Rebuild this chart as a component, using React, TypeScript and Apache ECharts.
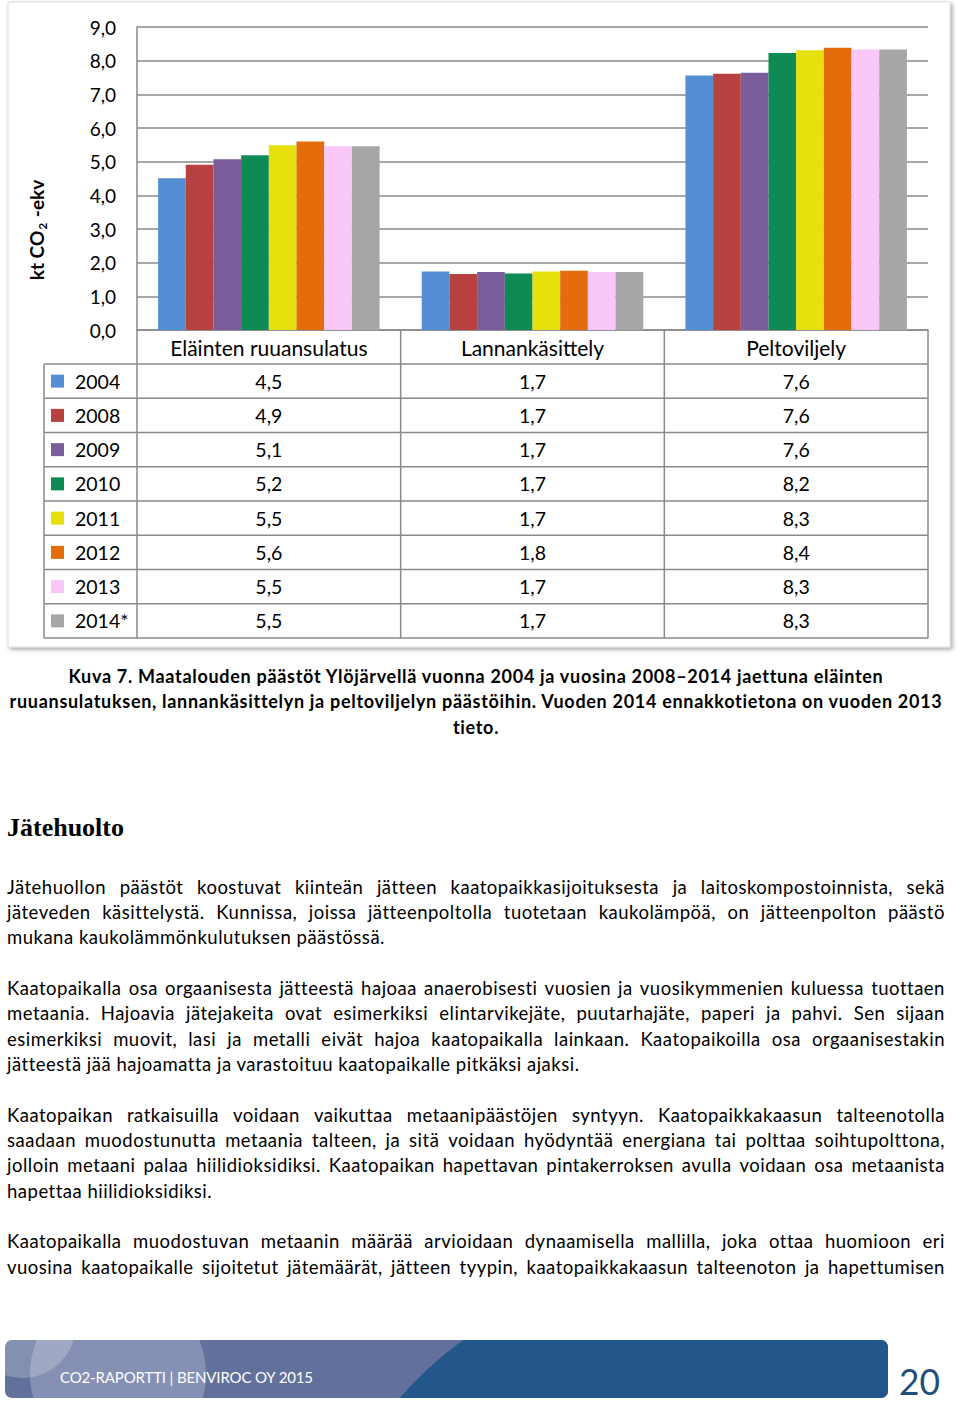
import React, { useEffect, useRef } from "react";
import * as echarts from "echarts";

// ---------- DATA ----------
const categories = ["Eläinten ruuansulatus", "Lannankäsittely", "Peltoviljely"];
const years = ["2004", "2008", "2009", "2010", "2011", "2012", "2013", "2014*"];
const colors = ["#558ED5", "#B7413E", "#7A5C9A", "#0E8A54", "#E6E00C", "#E46C0A", "#FAC8F8", "#A6A6A6"];
const v2004 = [4.51, 1.74, 7.56];
const v2008 = [4.91, 1.66, 7.61];
const v2009 = [5.07, 1.72, 7.64];
const v2010 = [5.19, 1.68, 8.23];
const v2011 = [5.49, 1.74, 8.31];
const v2012 = [5.6, 1.76, 8.38];
const v2013 = [5.46, 1.72, 8.33];
const v2014 = [5.46, 1.72, 8.33];
const seriesValues = [v2004, v2008, v2009, v2010, v2011, v2012, v2013, v2014];
const yMin = 0;
const yMax = 9;
const yStep = 1;

const captionLines = [
  "Kuva 7. Maatalouden päästöt Ylöjärvellä vuonna 2004 ja vuosina 2008–2014 jaettuna eläinten",
  "ruuansulatuksen, lannankäsittelyn ja peltoviljelyn päästöihin. Vuoden 2014 ennakkotietona on vuoden 2013",
  "tieto.",
];

const heading = "Jätehuolto";

// [text, justified]
const bodyParagraphs: [string, boolean][][] = [
  [
    ["Jätehuollon päästöt koostuvat kiinteän jätteen kaatopaikkasijoituksesta ja laitoskompostoinnista, sekä", true],
    ["jäteveden käsittelystä. Kunnissa, joissa jätteenpoltolla tuotetaan kaukolämpöä, on jätteenpolton päästö", true],
    ["mukana kaukolämmönkulutuksen päästössä.", false],
  ],
  [
    ["Kaatopaikalla osa orgaanisesta jätteestä hajoaa anaerobisesti vuosien ja vuosikymmenien kuluessa tuottaen", true],
    ["metaania. Hajoavia jätejakeita ovat esimerkiksi elintarvikejäte, puutarhajäte, paperi ja pahvi. Sen sijaan", true],
    ["esimerkiksi muovit, lasi ja metalli eivät hajoa kaatopaikalla lainkaan. Kaatopaikoilla osa orgaanisestakin", true],
    ["jätteestä jää hajoamatta ja varastoituu kaatopaikalle pitkäksi ajaksi.", false],
  ],
  [
    ["Kaatopaikan ratkaisuilla voidaan vaikuttaa metaanipäästöjen syntyyn. Kaatopaikkakaasun talteenotolla", true],
    ["saadaan muodostunutta metaania talteen, ja sitä voidaan hyödyntää energiana tai polttaa soihtupolttona,", true],
    ["jolloin metaani palaa hiilidioksidiksi. Kaatopaikan hapettavan pintakerroksen avulla voidaan osa metaanista", true],
    ["hapettaa hiilidioksidiksi.", false],
  ],
  [
    ["Kaatopaikalla muodostuvan metaanin määrää arvioidaan dynaamisella mallilla, joka ottaa huomioon eri", true],
    ["vuosina kaatopaikalle sijoitetut jätemäärät, jätteen tyypin, kaatopaikkakaasun talteenoton ja hapettumisen", true],
  ],
];

const footerText = "CO2-RAPORTTI | BENVIROC OY 2015";
const pageNumber = "20";

const FONT = "Lato, 'Open Sans', sans-serif";
const fmt = (v: number) => v.toFixed(1).replace(".", ",");

function Line(props: { text: string; left: number; top: number; width: number; justify: boolean; center?: boolean; style: React.CSSProperties }) {
  const words = props.text.split(" ");
  return (
    <div
      style={{
        position: "absolute",
        left: props.left,
        top: props.top,
        width: props.width,
        whiteSpace: "nowrap",
        textAlign: props.center ? "center" : "left",
        ...props.style,
      }}
    >
      {props.justify ? (
        <div style={{ display: "flex", justifyContent: "space-between" }}>
          {words.map((w, i) => (
            <span key={i}>{w}</span>
          ))}
        </div>
      ) : (
        <span>{props.text}</span>
      )}
    </div>
  );
}

export default function App() {
  const ref = useRef<HTMLDivElement>(null);

  useEffect(() => {
    document.body.style.margin = "0";
    const chart = echarts.init(ref.current!, null, { renderer: "svg" });
    const L = 137;
    const R = 928;
    const T = 27;
    const B = 330;
    const H = 660;
    const colW = (R - L) / categories.length;
    const headerBottom = 364;
    const rowH = 34.25;
    const tableLeft = 44;
    const tableBottom = headerBottom + rowH * years.length;
    const lineColor = "#8A8A8A";
    const lw = 1.5;

    const graphics: any[] = [];
    graphics.push({
      type: "rect",
      z: -100,
      shape: { x: 8, y: 2, width: 942, height: 645 },
      style: { fill: "#fff", stroke: "#dcdcdc", lineWidth: 1, shadowColor: "rgba(0,0,0,0.35)", shadowBlur: 4, shadowOffsetX: 2, shadowOffsetY: 2 },
    });
    // y-axis title
    graphics.push({
      type: "text",
      x: 36,
      y: 230,
      rotation: Math.PI / 2,
      style: {
        text: "{a|kt CO}{s|2}{a| -ekv}",
        align: "center",
        verticalAlign: "middle",
        rich: {
          a: { fontFamily: FONT, fontWeight: "bold", fontSize: 19, lineHeight: 24, fill: "#000", verticalAlign: "middle" },
          s: { fontFamily: FONT, fontWeight: "bold", fontSize: 12, lineHeight: 24, fill: "#000", verticalAlign: "bottom", padding: [0, 1, 0, 1] },
        },
      },
    });
    // horizontal table lines
    for (let i = 0; i <= years.length; i++) {
      const y = headerBottom + i * rowH;
      graphics.push({ type: "line", shape: { x1: tableLeft, y1: y, x2: R, y2: y }, style: { stroke: lineColor, lineWidth: lw } });
    }
    graphics.push({ type: "line", shape: { x1: tableLeft, y1: headerBottom, x2: tableLeft, y2: tableBottom }, style: { stroke: lineColor, lineWidth: lw } });
    for (let k = 0; k <= categories.length; k++) {
      const x = L + k * colW;
      graphics.push({ type: "line", shape: { x1: x, y1: B, x2: x, y2: tableBottom }, style: { stroke: lineColor, lineWidth: lw } });
    }
    years.forEach((yr, i) => {
      const cy = headerBottom + (i + 0.5) * rowH;
      graphics.push({ type: "rect", shape: { x: 51, y: cy - 6.5, width: 13, height: 13 }, style: { fill: colors[i] } });
      graphics.push({
        type: "text",
        x: 75,
        y: cy,
        style: { text: yr, fontFamily: FONT, fontSize: 19.5, fill: "#000", align: "left", verticalAlign: "middle" },
      });
      seriesValues[i].forEach((v, c) => {
        graphics.push({
          type: "text",
          x: L + (c + 0.5) * colW,
          y: cy,
          style: { text: fmt(v), fontFamily: FONT, fontSize: 19.5, fill: "#000", align: "center", verticalAlign: "middle" },
        });
      });
    });

    const option: any = {
      animation: false,
      backgroundColor: "#fff",
      grid: { left: L, right: 960 - R, top: T, bottom: H - B, containLabel: false },
      xAxis: {
        type: "category",
        data: categories,
        axisLine: { show: true, lineStyle: { color: lineColor, width: lw } },
        axisTick: { show: false },
        axisLabel: { fontFamily: FONT, fontSize: 21, color: "#000", margin: 7, lineHeight: 20 },
      },
      yAxis: {
        type: "value",
        min: yMin,
        max: yMax,
        interval: yStep,
        axisLine: { show: true, lineStyle: { color: lineColor, width: lw } },
        axisTick: { show: false },
        splitLine: { show: true, lineStyle: { color: lineColor, width: lw } },
        axisLabel: { fontFamily: FONT, fontSize: 19, color: "#000", margin: 21, formatter: (v: number) => fmt(v) },
      },
      series: years.map((yr, i) => ({
        type: "bar",
        name: yr,
        data: seriesValues[i],
        barGap: "0%",
        barCategoryGap: "16%",
        itemStyle: { color: colors[i] },
      })),
      graphic: { elements: graphics },
    };
    chart.setOption(option);
    return () => chart.dispose();
  }, []);

  const captionTops = [663.5, 689, 714.5];
  const lineH = 25.35;
  let lineIdx = 0;
  const bodyLines: JSX.Element[] = [];
  bodyParagraphs.forEach((para, pi) => {
    para.forEach(([text, just], li) => {
      const top = 874.5 + lineIdx * lineH;
      bodyLines.push(
        <Line
          key={pi + "-" + li}
          text={text}
          left={7}
          top={top}
          width={938}
          justify={just}
          style={{ fontFamily: FONT, fontSize: 18.5, lineHeight: "25px", color: "#000", letterSpacing: "0.5px" }}
        />
      );
      lineIdx++;
    });
    lineIdx++;
  });

  return (
    <div style={{ position: "relative", width: 960, height: 1403, background: "#fff", overflow: "hidden", fontFamily: FONT }}>
      <div ref={ref} style={{ position: "absolute", left: 0, top: 0, width: 960, height: 660 }} />
      {captionLines.map((t, i) => (
        <Line
          key={"c" + i}
          text={t}
          left={8}
          top={captionTops[i]}
          width={936}
          justify={false}
          center={true}
          style={{ fontFamily: FONT, fontWeight: "bold", fontSize: 18, lineHeight: "25px", color: "#000", letterSpacing: "0.7px" }}
        />
      ))}
      <div
        style={{
          position: "absolute",
          left: 7,
          top: 812,
          fontFamily: "'Liberation Serif', 'DejaVu Serif', serif",
          fontWeight: "bold",
          fontSize: 26,
          lineHeight: "32px",
          color: "#000",
        }}
      >
        {heading}
      </div>
      {bodyLines}
      <svg style={{ position: "absolute", left: 0, top: 1330 }} width={960} height={73}>
        <defs>
          <clipPath id="bandClip">
            <rect x={5} y={10} width={883} height={58} rx={7} />
          </clipPath>
        </defs>
        <g clipPath="url(#bandClip)">
          <rect x={5} y={10} width={883} height={58} fill="#62719B" />
          <circle cx={118} cy={44} r={88} fill="#8690B4" />
          <circle cx={22} cy={-6} r={54} fill="#ffffff" fillOpacity={0.22} />
          <path d="M 463 10 L 890 10 L 890 70 L 398 70 Q 425 38 463 10 Z" fill="#23578A" />
        </g>
        <text x={60} y={52.5} fill="#fff" fontFamily={FONT} fontSize={15} textLength={253} lengthAdjust="spacing">
          {footerText}
        </text>
        <text x={899} y={64.5} fill="#1F4E79" fontFamily={FONT} fontSize={37} textLength={41} lengthAdjust="spacingAndGlyphs">
          {pageNumber}
        </text>
      </svg>
    </div>
  );
}
